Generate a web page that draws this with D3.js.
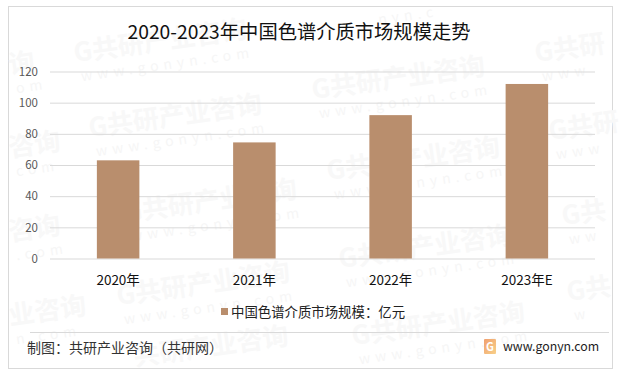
<!DOCTYPE html>
<html><head><meta charset="utf-8">
<script src="https://cdn.jsdelivr.net/npm/d3@7/dist/d3.min.js"></script>
<style>html,body{margin:0;padding:0;background:#fff}svg{display:block}text{font-family:"Noto Sans CJK SC","Noto Sans",sans-serif}</style>
</head><body><svg id="c" width="620" height="376"></svg>
<script>
const categories=["2020年","2021年","2022年","2023年E"];
const values=[63,74.5,92,112];
const yTicks=[0,20,40,60,80,100,120];
const titleText="2020-2023年中国色谱介质市场规模走势";
const legendText="中国色谱介质市场规模：亿元";
const sourceText="制图：共研产业咨询（共研网）";
const siteText="www.gonyn.com";
const FULL="G共研产业咨询", SUB="www.gonyn.com";
const wmAnchors=[
 [75,62,FULL,SUB],[90,137,FULL,SUB],[313,99,FULL,SUB],[328,180,FULL,SUB],
 [125,222,FULL,SUB],[118,305,FULL,SUB],[340,268,FULL,SUB],[353,345,FULL,SUB],
 [536,62,"G共研","www"],[550,140,"G共研","www"],[563,225,"G共","ww"],[568,301,"G共","w"],
 [10,74,"询","om"],[10,157,"咨询","com"],[10,241,"咨询",".com"],[10,325,"业咨询","n.com"],
 [135,366,"共研产业咨询",""],[375,25,"","nyn.c"]
];

const svg=d3.select("#c");
svg.append("rect").attr("x",8.5).attr("y",6.5).attr("width",604).attr("height",362).attr("fill","#fff").attr("stroke","#d9d9d9").attr("stroke-width",1);

const wm=svg.append("g").selectAll("g").data(wmAnchors).join("g")
  .attr("transform",d=>`translate(${d[0]},${d[1]}) rotate(-8)`);
wm.append("text").text(d=>d[2]).attr("font-size",26).attr("font-weight",700).attr("fill","#f8f8f8");
wm.append("text").text(d=>d[3]).attr("x",4).attr("y",d=>d[2]?20:0).attr("font-size",14).attr("letter-spacing",5).attr("fill","#f6f6f6");

const x=d3.scaleBand().domain(categories).range([50,595]).paddingInner(0.688).paddingOuter(0.344);
const y=d3.scaleLinear().domain([0,120]).range([258.5,71.5]);

const gy=svg.append("g").attr("transform","translate(50,0)")
  .call(d3.axisLeft(y).tickValues(yTicks).tickSize(-545).tickPadding(12));
gy.select(".domain").remove();
gy.selectAll(".tick line").attr("stroke","#d9d9d9");
gy.selectAll(".tick text").attr("fill","#595959").attr("font-size",11.5).attr("font-family",'"Open Sans","Noto Sans",sans-serif');

svg.append("g").selectAll("rect").data(values).join("rect")
  .attr("x",(d,i)=>x(categories[i])).attr("width",x.bandwidth())
  .attr("y",d=>y(d)).attr("height",d=>y(0)-y(d)).attr("fill","#b98e6d");

const gx=svg.append("g").attr("transform","translate(0,258.5)").call(d3.axisBottom(x).tickSize(0).tickPadding(17));
gx.select(".domain").remove();
gx.selectAll(".tick text").attr("fill","#111").attr("font-size",13.5);

svg.append("text").text(titleText).attr("x",299).attr("y",39).attr("text-anchor","middle").attr("font-size",19.3).attr("fill","#111");

svg.append("rect").attr("x",221).attr("y",308).attr("width",7).attr("height",7).attr("fill","#b98e6d");
svg.append("text").text(legendText).attr("x",231).attr("y",317).attr("font-size",13.4).attr("fill","#222");

svg.append("line").attr("x1",30).attr("x2",609).attr("y1",332.5).attr("y2",332.5).attr("stroke","#d9d9d9");
svg.append("text").text(sourceText).attr("x",27).attr("y",353).attr("font-size",14).attr("fill","#333");

const grad=svg.append("linearGradient").attr("id","lg").attr("x1",0).attr("y1",0).attr("x2",1).attr("y2",1);
grad.append("stop").attr("offset",0).attr("stop-color","#f0a070");
grad.append("stop").attr("offset",1).attr("stop-color","#f8d088");
svg.append("rect").attr("x",484).attr("y",339).attr("width",12).attr("height",15).attr("rx",1).attr("fill","url(#lg)");
svg.append("text").text("G").attr("x",490).attr("y",351).attr("text-anchor","middle").attr("font-size",11).attr("font-weight",700).attr("fill","#fff");
svg.append("text").text(siteText).attr("x",503).attr("y",351).attr("font-size",12.3).attr("fill","#222").attr("font-family",'"Open Sans","Noto Sans",sans-serif');
</script></body></html>
